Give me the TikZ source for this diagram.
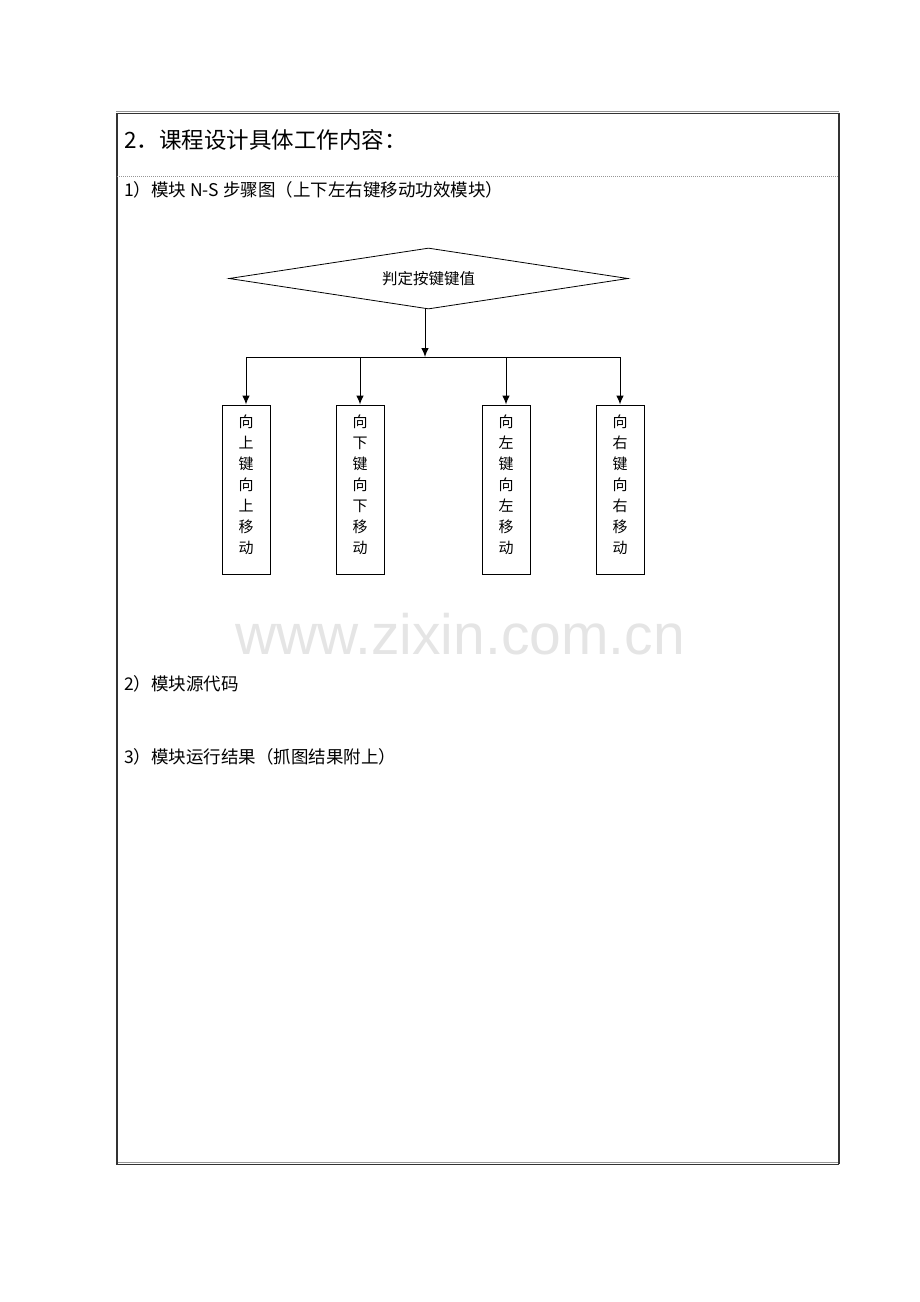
\documentclass[tikz,border=0pt]{standalone}
\usepackage{fontspec}
\setmainfont{Noto Sans CJK SC}
\newfontfamily\wmfont{Liberation Sans}
\usepackage{xcolor}
\usetikzlibrary{shapes,arrows,arrows.meta,positioning,fit,backgrounds}
\definecolor{frame}{RGB}{51, 51, 51}
\definecolor{rulegray}{RGB}{150, 150, 150}
\definecolor{wmgray}{RGB}{229, 229, 229}
\tikzstyle{decide} = [diamond, draw=black, line width=0.8pt, aspect=6.5, minimum width=399pt, minimum height=61pt, inner sep=0pt, text=black, font=\fontsize{15.5}{15.5}\selectfont]
\tikzstyle{keybox} = [rectangle, draw=black, line width=1.0pt, minimum width=48pt, minimum height=169pt, inner sep=0pt, align=center, text depth=10pt, text=black, font=\fontsize{15}{21}\selectfont]
\tikzstyle{textonly} = [draw=none, fill=none, anchor=west, inner sep=0pt, font=\fontsize{17.5}{17.5}\selectfont]
\tikzstyle{tedge}  = [draw, line width=1pt, >={Latex[length=9pt,width=7.5pt]}, ->]

\begin{document}
\begin{tikzpicture}[x=1pt, y=-1pt]
\useasboundingbox (0,0) rectangle (920,1302);

% frame =============================

\draw[rulegray, line width=1pt] (116,111) -- (839,111);
\draw[frame, line width=1.6pt] (116,113.5) -- (839,113.5);
\draw[rulegray, line width=1pt] (116,1162) -- (839,1162);
\draw[frame, line width=1.6pt] (116,1164.5) -- (839,1164.5);
\draw[frame, line width=2pt] (116.5,113) -- (116.5,1164);
\draw[frame, line width=2pt] (838.5,113) -- (838.5,1164);
\draw[rulegray, line width=1pt, dash pattern=on 1pt off 1pt] (117,176) -- (838,176);

% texts
\node[textonly, font=\fontsize{22.5}{22.5}\selectfont] (title) at (124,140) {2．课程设计具体工作内容：};
\node[textonly] (step1) at (124,190) {1）模块 N-S 步骤图（上下左右键移动功效模块）};
\node[textonly] (step2) at (124,684) {2）模块源代码};
\node[textonly] (step3) at (124,757) {3）模块运行结果（抓图结果附上）};

% watermark
\node[textonly, anchor=center, text=wmgray, font=\wmfont\fontsize{57}{57}\selectfont] (wm) at (460,634) {www.zixin.com.cn};

% operations =============================

\node[decide] (judge) at (428.5,278.5) {判定按键键值};

% key boxes
\node[keybox] (kup) at (246,489.5) {向\\上\\键\\向\\上\\移\\动};
\node[keybox, right=65pt of kup] (kdown) {向\\下\\键\\向\\下\\移\\动};
\node[keybox, right=97pt of kdown] (kleft) {向\\左\\键\\向\\左\\移\\动};
\node[keybox, right=65pt of kleft] (kright) {向\\右\\键\\向\\右\\移\\动};

\coordinate (bus) at (425,357);

%edges

\path[tedge] (judge.south -| bus) -- (bus);
\draw[line width=1pt] (kup.north |- bus) -- (kright.north |- bus);

\path[tedge] (kup.north |- bus) -- (kup.north);
\path[tedge] (kdown.north |- bus) -- (kdown.north);
\path[tedge] (kleft.north |- bus) -- (kleft.north);
\path[tedge] (kright.north |- bus) -- (kright.north);

\end{tikzpicture}
\end{document}
